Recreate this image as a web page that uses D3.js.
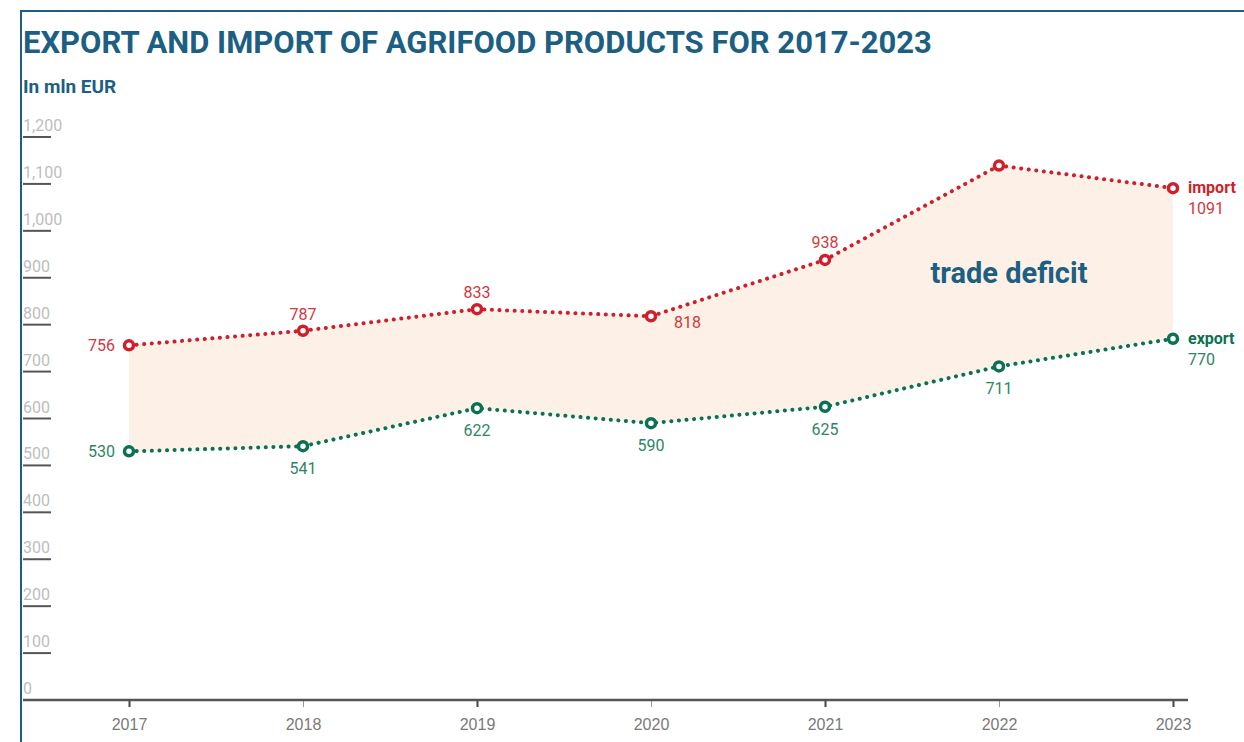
<!DOCTYPE html>
<html>
  <head>
    <script src="https://d3js.org/d3.v7.min.js"></script>
    <style>
      body { margin: 0; background: #fff; }
      svg { font-family: Roboto, "Noto Sans", sans-serif; }
      .ylab { fill: #bdbdbd; font-size: 16px; }
      .xlab { fill: #7a7a7a; font-size: 16px; }
    </style>
  </head>
  <body>
    <svg width="1244" height="742"></svg>
    <script>
      // data
      var years = ["2017", "2018", "2019", "2020", "2021", "2022", "2023"];
      var importValues = [756, 787, 833, 818, 938, 1139, 1091];
      var exportValues = [530, 541, 622, 590, 625, 711, 770];
      var importLabels = ["756", "787", "833", "818", "938", "", "1091"];
      var exportLabels = ["530", "541", "622", "590", "625", "711", "770"];
      var yTicks = [0, 100, 200, 300, 400, 500, 600, 700, 800, 900, 1000, 1100, 1200];

      var blue = "#1c5f82", red = "#cf1f2a", green = "#0b7150";

      var svg = d3.select("svg");

      var x = d3.scalePoint().domain(years).range([129, 1173]);
      var y = d3.scaleLinear().domain([0, 1200]).range([700, 137]);

      // frame (top and left only)
      svg.append("path")
          .attr("d", "M21,742V11H1244")
          .attr("fill", "none")
          .attr("stroke", blue)
          .attr("stroke-width", 2);

      // titles
      svg.append("text")
          .attr("x", 23).attr("y", 53)
          .attr("fill", blue)
          .attr("font-size", 31)
          .attr("font-weight", "bold")
          .text("EXPORT AND IMPORT OF AGRIFOOD PRODUCTS FOR 2017-2023");
      svg.append("text")
          .attr("x", 23).attr("y", 93)
          .attr("fill", blue)
          .attr("font-size", 19)
          .attr("font-weight", "bold")
          .text("In mln EUR");

      // y ticks: label above a short underline
      var yt = svg.append("g").selectAll("g").data(yTicks).join("g")
          .attr("transform", function(d) { return "translate(0," + y(d) + ")"; });
      yt.filter(function(d) { return d > 0; }).append("line")
          .attr("x1", 23).attr("x2", 51)
          .attr("stroke", "#555").attr("stroke-width", 2);
      yt.append("text")
          .attr("class", "ylab")
          .attr("x", 23).attr("y", -6)
          .text(function(d) { return d3.format(",")(d); });

      // deficit area
      var area = d3.area()
          .x(function(d, i) { return x(years[i]); })
          .y0(function(d, i) { return y(exportValues[i]); })
          .y1(function(d) { return y(d); });
      svg.append("path")
          .datum(importValues)
          .attr("d", area)
          .attr("fill", "#fdf1e7");

      svg.append("text")
          .attr("x", 1009).attr("y", 283)
          .attr("text-anchor", "middle")
          .attr("fill", blue)
          .attr("font-size", 29)
          .attr("font-weight", "bold")
          .text("trade deficit");

      // x axis
      var xAxis = svg.append("g")
          .attr("transform", "translate(0," + y(0) + ")")
          .call(d3.axisBottom(x).tickSize(7).tickSizeOuter(0));
      xAxis.select(".domain").remove();
      xAxis.selectAll(".tick line")
          .attr("stroke", function(d, i) { return i % 2 ? "#999" : "#444"; })
          .attr("stroke-width", function(d, i) { return i % 2 ? 1 : 2; });
      xAxis.selectAll(".tick text")
          .attr("class", "xlab")
          .attr("y", 19)
          .attr("font-family", null).attr("font-size", null).attr("fill", null);
      svg.append("line")
          .attr("x1", 23).attr("x2", 1188)
          .attr("y1", y(0)).attr("y2", y(0))
          .attr("stroke", "#555").attr("stroke-width", 2.5);

      // series
      var line = d3.line()
          .x(function(d, i) { return x(years[i]); })
          .y(function(d) { return y(d); });

      function drawSeries(values, color) {
        svg.append("path")
            .datum(values)
            .attr("d", line)
            .attr("fill", "none")
            .attr("stroke", color)
            .attr("stroke-width", 4)
            .attr("stroke-linecap", "round")
            .attr("stroke-dasharray", "0.1 7.5");
        svg.append("g").selectAll("circle").data(values).join("circle")
            .attr("cx", function(d, i) { return x(years[i]); })
            .attr("cy", function(d) { return y(d); })
            .attr("r", 4.5)
            .attr("fill", "#fff")
            .attr("stroke", color)
            .attr("stroke-width", 3.5);
      }
      drawSeries(importValues, red);
      drawSeries(exportValues, green);

      // value labels
      var importPos = [
        { dx: -14, dy: 6, a: "end" },
        { dx: 0, dy: -11, a: "middle" },
        { dx: 0, dy: -11, a: "middle" },
        { dx: 23, dy: 12, a: "start" },
        { dx: 0, dy: -12, a: "middle" },
        { dx: 0, dy: -12, a: "middle" },
        { dx: 15, dy: 26, a: "start" }
      ];
      var exportPos = [
        { dx: -14, dy: 6, a: "end" },
        { dx: 0, dy: 28, a: "middle" },
        { dx: 0, dy: 28, a: "middle" },
        { dx: 0, dy: 28, a: "middle" },
        { dx: 0, dy: 28, a: "middle" },
        { dx: 0, dy: 28, a: "middle" },
        { dx: 15, dy: 26, a: "start" }
      ];

      function drawLabels(values, labels, pos, color) {
        svg.append("g").selectAll("text").data(values).join("text")
            .attr("x", function(d, i) { return x(years[i]) + pos[i].dx; })
            .attr("y", function(d, i) { return y(d) + pos[i].dy; })
            .attr("text-anchor", function(d, i) { return pos[i].a; })
            .attr("fill", color)
            .attr("font-size", 16)
            .text(function(d, i) { return labels[i]; });
      }
      drawLabels(importValues, importLabels, importPos, "#d2383d");
      drawLabels(exportValues, exportLabels, exportPos, "#2e8563");

      // series names
      var last = years.length - 1;
      svg.append("text")
          .attr("x", x(years[last]) + 15)
          .attr("y", y(importValues[last]) + 5)
          .attr("fill", red)
          .attr("font-size", 16)
          .attr("font-weight", "bold")
          .text("import");
      svg.append("text")
          .attr("x", x(years[last]) + 15)
          .attr("y", y(exportValues[last]) + 5)
          .attr("fill", green)
          .attr("font-size", 16)
          .attr("font-weight", "bold")
          .text("export");
    </script>
  </body>
</html>
